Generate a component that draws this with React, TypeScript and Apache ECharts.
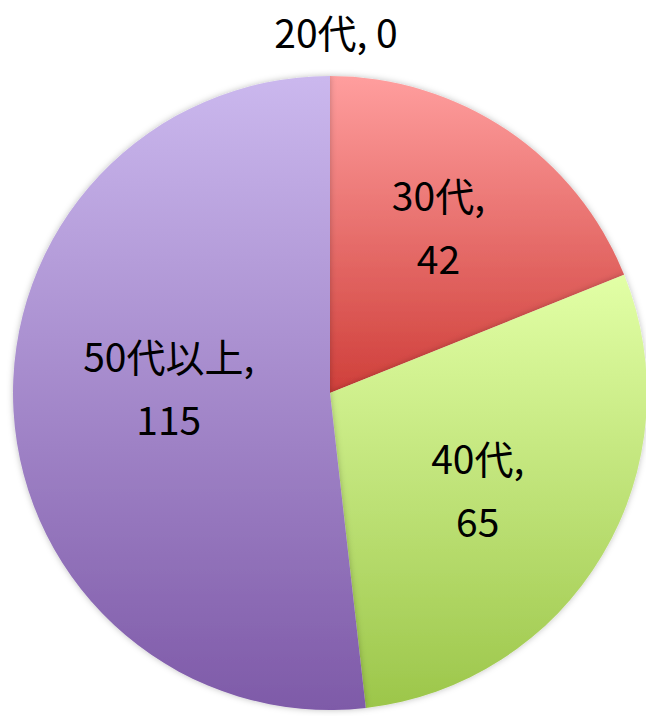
import React, { useEffect, useRef } from "react";
import * as echarts from "echarts";

const categories = ["20代", "30代", "40代", "50代以上"];
const values = [0, 42, 65, 115];

const gradients: [string, string][] = [
  ["#9BBBE0", "#4F81BD"],
  ["#FF9E9E", "#CF3F3A"],
  ["#E2FFA6", "#9CC64A"],
  ["#CBB8EE", "#7E5AA8"],
];

const labelShift: { dx: number; dy: number }[] = [
  { dx: 6, dy: -201 },
  { dx: 18, dy: -34 },
  { dx: 9, dy: 13 },
  { dx: 0, dy: -16 },
];

export default function App() {
  const ref = useRef<HTMLDivElement>(null);
  useEffect(() => {
    if (!ref.current) return;
    const chart = echarts.init(ref.current, undefined, { renderer: "svg" });
    chart.setOption({
      animation: false,
      backgroundColor: "#ffffff",
      series: [
        {
          type: "pie",
          center: [330, 393],
          radius: [0, 317],
          startAngle: 90,
          clockwise: true,
          avoidLabelOverlap: false,
          itemStyle: {
            shadowBlur: 6,
            shadowColor: "rgba(0,0,0,0.25)",
          },
          label: {
            show: true,
            position: "inside",
            color: "#000",
            fontSize: 39,
            lineHeight: 63,
            fontFamily: "'Noto Sans CJK JP', sans-serif",
            formatter: (p: any) =>
              p.value === 0 ? `${p.name}, ${p.value}` : `${p.name},\n${p.value}`,
          },
          labelLine: { show: false },
          labelLayout: (p: any) => labelShift[p.dataIndex] || {},
          data: categories.map((name, i) => ({
            name,
            value: values[i],
            label: values[i] === 0 ? { lineHeight: 40 } : undefined,
            itemStyle: {
              color: new echarts.graphic.LinearGradient(0, 0, 0, 1, [
                { offset: 0, color: gradients[i][0] },
                { offset: 1, color: gradients[i][1] },
              ]),
            },
          })),
        },
      ],
    });
    return () => chart.dispose();
  }, []);
  return (
    <div
      ref={ref}
      style={{ position: "fixed", left: 0, top: 0, width: 646, height: 716 }}
    />
  );
}
